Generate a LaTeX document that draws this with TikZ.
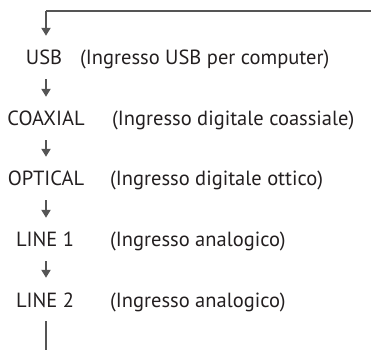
\documentclass[tikz,border=0pt]{standalone}
\usepackage{fontspec}
\setmainfont{PT Sans}
\usetikzlibrary{arrows.meta}
\definecolor{linegray}{HTML}{555555}
\definecolor{txt}{HTML}{231F20}
\tikzset{
  x=1pt,y=1pt,
  lbl/.style={inner sep=0pt, text height=14pt, text depth=0pt, minimum height=42pt, font=\fontsize{20.5}{20.5}\selectfont, text=txt},
  desc/.style={inner sep=0pt, anchor=west, text height=14pt, text depth=0pt, font=\fontsize{20.5}{20.5}\selectfont, text=txt},
  flow/.style={draw=linegray, line width=2.2pt, -{Triangle[width=9pt,length=8pt]}, shorten >=1pt},
  loopline/.style={draw=linegray, line width=2.2pt}
}
\begin{document}
\begin{tikzpicture}
\useasboundingbox (0,0) rectangle (371,350);
\node[lbl] (usb) at (44,292) {USB};
\node[lbl] (coax) at (46,231) {COAXIAL};
\node[lbl] (opt) at (46,171) {OPTICAL};
\node[lbl] (l1) at (45,110) {LINE 1};
\node[lbl] (l2) at (45,50) {LINE 2};
\node[desc] (dusb) at (80,292) {(Ingresso USB per computer)};
\node[desc] (dcoax) at (112,231) {(Ingresso digitale coassiale)};
\node[desc] (dopt) at (110,171) {(Ingresso digitale ottico)};
\node[desc] (dl1) at (110,110) {(Ingresso analogico)};
\node[desc] (dl2) at (110,50) {(Ingresso analogico)};
\coordinate (inR) at (371,339);
\coordinate (inC) at (46,339);
\coordinate (outB) at (46,0);
\draw[loopline] (inR) -- (inC);
\draw[flow] (inC) -- (usb.north -| inC);
\draw[flow] (usb.south -| inC) -- (coax.north -| inC);
\draw[flow] (coax.south -| inC) -- (opt.north -| inC);
\draw[flow] (opt.south -| inC) -- (l1.north -| inC);
\draw[flow] (l1.south -| inC) -- (l2.north -| inC);
\draw[loopline] (l2.south -| inC) -- (outB);
\end{tikzpicture}
\end{document}
